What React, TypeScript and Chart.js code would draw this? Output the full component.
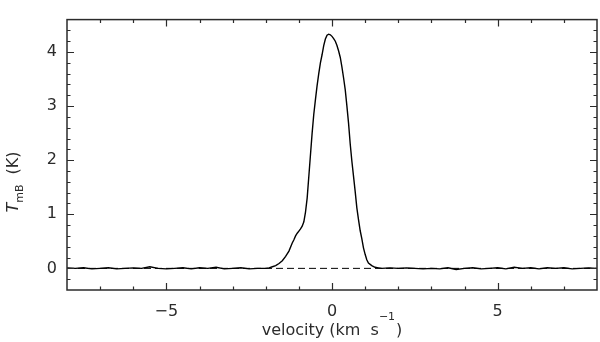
import React, { useEffect, useRef } from 'react';
import { Chart, registerables } from 'chart.js';

Chart.register(...registerables);

// ---- data ----
const velocity = [
  -8, -7.75, -7.5, -7.25, -7, -6.75, -6.5, -6.25, -6, -5.75, -5.5, -5.25, -5,
  -4.75, -4.5, -4.25, -4, -3.75, -3.5, -3.25, -3, -2.75, -2.5, -2.25, -2,
  -1.9, -1.8, -1.7, -1.6, -1.5, -1.4, -1.3, -1.2,
  -1.15, -1.1, -1.05, -1, -0.95, -0.9, -0.85, -0.8, -0.75, -0.7,
  -0.65, -0.6, -0.55, -0.5, -0.45, -0.4, -0.35, -0.3, -0.25, -0.2,
  -0.15, -0.1, -0.05, 0, 0.05, 0.1, 0.15, 0.2, 0.25, 0.3,
  0.35, 0.4, 0.45, 0.5, 0.55, 0.6, 0.65, 0.7, 0.75, 0.8,
  0.85, 0.9, 0.95, 1, 1.05, 1.1,
  1.2, 1.3, 1.4, 1.5,
  1.75, 2, 2.25, 2.5, 2.75, 3, 3.25, 3.5, 3.75, 4, 4.25, 4.5, 4.75,
  5, 5.25, 5.5, 5.75, 6, 6.25, 6.5, 6.75, 7, 7.25, 7.5, 7.75, 8,
];
const tmb = [
  0.01, 0.0, 0.01, -0.01, 0.0, 0.01, -0.01, 0.0, 0.01, 0.0, 0.03, 0.0, -0.01,
  0.0, 0.01, -0.01, 0.01, 0.0, 0.02, -0.01, 0.0, 0.01, -0.01, 0.0, 0.0,
  0.01, 0.03, 0.05, 0.09, 0.14, 0.22, 0.32, 0.47,
  0.53, 0.6, 0.65, 0.69, 0.73, 0.78, 0.86, 1.04, 1.3, 1.7,
  2.1, 2.5, 2.85, 3.12, 3.38, 3.6, 3.8, 3.95, 4.12, 4.24,
  4.31, 4.33, 4.32, 4.29, 4.25, 4.2, 4.12, 4.02, 3.9, 3.72,
  3.52, 3.3, 3.0, 2.68, 2.3, 1.98, 1.7, 1.42, 1.12, 0.9,
  0.7, 0.55, 0.38, 0.26, 0.16, 0.1,
  0.05, 0.02, 0.01, 0.0,
  0.01, 0.0, 0.01, 0.0, -0.01, 0.0, -0.01, 0.01, -0.02, 0.0, 0.01, -0.01, 0.0,
  0.01, -0.01, 0.02, 0.0, 0.01, -0.01, 0.01, 0.0, 0.01, -0.01, 0.0, 0.01, 0.0,
];
const zeroLineVelocity = [-8, 8];
const zeroLineTmb = [0, 0];

const xRange = [-8, 8];
const yRange = [-0.4, 4.6];
const xMajorTicks = [-5, 0, 5];
const yMajorTicks = [0, 1, 2, 3, 4];
const xMinorStep = 1;
const yMinorStep = 0.2;

const xTitleMain = 'velocity (km  s';
const xTitleSup = '\u22121';
const xTitleEnd = ')';
const yTitleMain = 'T';
const yTitleSub = 'mB';
const yTitleEnd = '  (K)';

// ---- styling ----
const FONT = "'DejaVu Sans', sans-serif";
const INK = '#2b2b2b';

const fmt = (v: number) => (v < 0 ? '\u2212' + Math.abs(v) : String(v));

const framePlugin = {
  id: 'pgframe',
  afterDraw(chart: any) {
    const { ctx, chartArea: a, scales } = chart;
    const xs = scales.x;
    const ys = scales.y;
    ctx.save();
    ctx.strokeStyle = INK;
    ctx.lineWidth = 1.5;
    ctx.strokeRect(a.left, a.top, a.right - a.left, a.bottom - a.top);

    const major = 7;
    const minor = 3.5;
    ctx.lineWidth = 1.2;
    ctx.beginPath();
    const nx = Math.round((xRange[1] - xRange[0]) / xMinorStep);
    for (let i = 1; i < nx; i++) {
      const v = xRange[0] + i * xMinorStep;
      const isMajor = xMajorTicks.some((m) => Math.abs(m - v) < 1e-6);
      const len = isMajor ? major : minor;
      const px = Math.round(xs.getPixelForValue(v)) + 0.5;
      ctx.moveTo(px, a.bottom);
      ctx.lineTo(px, a.bottom - len);
      ctx.moveTo(px, a.top);
      ctx.lineTo(px, a.top + len);
    }
    const ny = Math.round((yRange[1] - yRange[0]) / yMinorStep);
    for (let i = 1; i < ny; i++) {
      const v = yRange[0] + i * yMinorStep;
      const isMajor = yMajorTicks.some((m) => Math.abs(m - v) < 1e-6);
      const len = isMajor ? major : minor;
      const py = Math.round(ys.getPixelForValue(v)) + 0.5;
      ctx.moveTo(a.left, py);
      ctx.lineTo(a.left + len, py);
      ctx.moveTo(a.right, py);
      ctx.lineTo(a.right - len, py);
    }
    ctx.stroke();

    // x title with superscript
    const main = `16px ${FONT}`;
    const small = `11px ${FONT}`;
    ctx.fillStyle = INK;
    ctx.textAlign = 'left';
    ctx.textBaseline = 'alphabetic';
    ctx.font = main;
    const w1 = ctx.measureText(xTitleMain).width;
    const w3 = ctx.measureText(xTitleEnd).width;
    ctx.font = small;
    const w2 = ctx.measureText(xTitleSup).width;
    const total = w1 + w2 + w3 + 1;
    let x0 = (a.left + a.right) / 2 - total / 2;
    const by = 335;
    ctx.font = main;
    ctx.fillText(xTitleMain, x0, by);
    x0 += w1;
    ctx.font = small;
    ctx.fillText(xTitleSup, x0, by - 15);
    x0 += w2 + 1;
    ctx.font = main;
    ctx.fillText(xTitleEnd, x0, by);

    // y title with subscript (rotated)
    const ital = `italic 16px ${FONT}`;
    ctx.font = ital;
    const t1 = ctx.measureText(yTitleMain).width;
    ctx.font = small;
    const t2 = ctx.measureText(yTitleSub).width;
    ctx.font = main;
    const t3 = ctx.measureText(yTitleEnd).width;
    const tw = t1 + t2 + t3;
    const centerY = 182;
    ctx.translate(18, centerY + tw / 2);
    ctx.rotate(-Math.PI / 2);
    ctx.font = ital;
    ctx.fillText(yTitleMain, 0, 0);
    ctx.font = small;
    ctx.fillText(yTitleSub, t1, 5);
    ctx.font = main;
    ctx.fillText(yTitleEnd, t1 + t2, 0);
    ctx.restore();
  },
};

export default function App() {
  const ref = useRef<HTMLCanvasElement | null>(null);

  useEffect(() => {
    if (!ref.current) return;
    const chart = new Chart(ref.current, {
      type: 'line',
      data: {
        datasets: [
          {
            data: velocity.map((v, i) => ({ x: v, y: tmb[i] })),
            borderColor: '#000',
            borderWidth: 1.4,
            pointRadius: 0,
            tension: 0,
            order: 1,
          },
          {
            data: zeroLineVelocity.map((v, i) => ({ x: v, y: zeroLineTmb[i] })),
            borderColor: '#000',
            borderWidth: 1,
            borderDash: [7, 4],
            pointRadius: 0,
            order: 2,
          },
        ],
      },
      options: {
        responsive: false,
        maintainAspectRatio: false,
        animation: false,
        layout: { padding: { top: 5, right: 3, left: 0, bottom: 0 } },
        plugins: { legend: { display: false }, tooltip: { enabled: false } },
        scales: {
          x: {
            type: 'linear',
            min: xRange[0],
            max: xRange[1],
            grid: { display: false, drawTicks: false },
            border: { display: false },
            afterBuildTicks: (s: any) => {
              s.ticks = xMajorTicks.map((v) => ({ value: v }));
            },
            afterFit: (s: any) => {
              s.height = 52;
            },
            ticks: {
              autoSkip: false,
              maxRotation: 0,
              padding: 12,
              color: INK,
              font: { family: FONT, size: 16 },
              callback: (v: any) => fmt(Number(v)),
            },
          },
          y: {
            type: 'linear',
            min: yRange[0],
            max: yRange[1],
            grid: { display: false, drawTicks: false },
            border: { display: false },
            afterBuildTicks: (s: any) => {
              s.ticks = yMajorTicks.map((v) => ({ value: v }));
            },
            afterFit: (s: any) => {
              s.width = 67;
            },
            ticks: {
              autoSkip: false,
              padding: 10,
              color: INK,
              font: { family: FONT, size: 16 },
              callback: (v: any) => fmt(Number(v)),
            },
          },
        },
      },
      plugins: [framePlugin],
    } as any);
    return () => chart.destroy();
  }, []);

  return (
    <div style={{ position: 'absolute', left: 0, top: 0, width: 600, height: 342, background: '#fff' }}>
      <canvas ref={ref} width={600} height={342} style={{ display: 'block' }} />
    </div>
  );
}
